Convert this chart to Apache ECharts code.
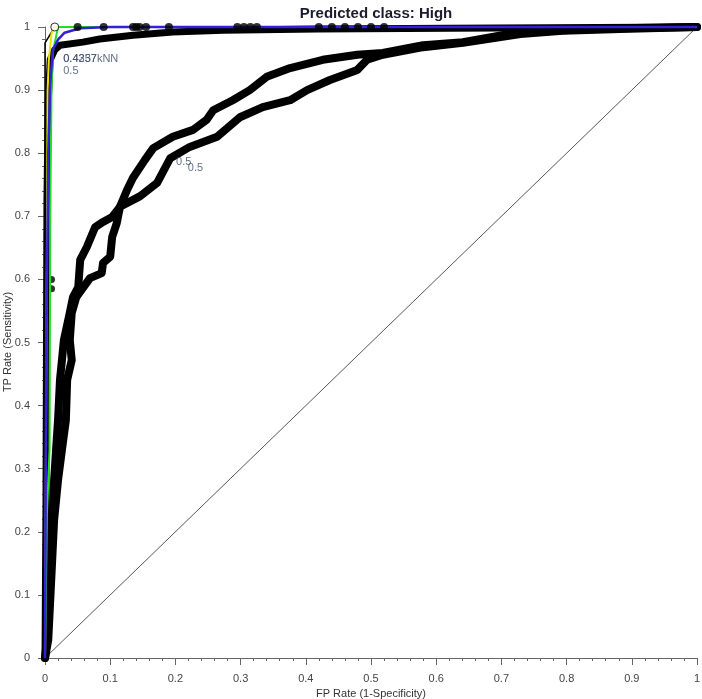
<!DOCTYPE html>
<html>
<head>
<meta charset="utf-8">
<script src="https://cdn.jsdelivr.net/npm/echarts@6/dist/echarts.min.js"></script>
<style>html,body{margin:0;padding:0;background:#fff}#c{width:702px;height:699px}</style>
</head>
<body>
<div id="c"></div>
<script>
// ROC curves: [FP rate, TP rate]
const curveA = [[0,0],[0.003,0.029],[0.005,0.092],[0.008,0.155],[0.011,0.219],[0.014,0.282],[0.017,0.330],[0.020,0.377],[0.023,0.441],[0.026,0.472],[0.029,0.504],[0.038,0.547],[0.043,0.572],[0.051,0.588],[0.054,0.631],[0.064,0.651],[0.077,0.683],[0.089,0.691],[0.103,0.699],[0.115,0.715],[0.126,0.742],[0.135,0.761],[0.153,0.789],[0.166,0.808],[0.196,0.826],[0.227,0.837],[0.248,0.853],[0.258,0.868],[0.288,0.884],[0.314,0.900],[0.340,0.921],[0.376,0.935],[0.426,0.948],[0.479,0.956],[0.518,0.959],[0.580,0.971],[0.641,0.976],[0.729,0.992],[0.794,0.995],[0.882,0.998],[1,1]];
const curveB = [[0,0],[0.005,0.029],[0.008,0.092],[0.011,0.155],[0.014,0.219],[0.020,0.282],[0.026,0.330],[0.032,0.377],[0.034,0.441],[0.041,0.472],[0.038,0.504],[0.041,0.547],[0.048,0.572],[0.069,0.602],[0.087,0.610],[0.089,0.626],[0.100,0.636],[0.103,0.667],[0.110,0.689],[0.115,0.715],[0.146,0.732],[0.172,0.753],[0.192,0.792],[0.222,0.810],[0.264,0.826],[0.299,0.857],[0.334,0.873],[0.376,0.884],[0.402,0.900],[0.437,0.916],[0.479,0.932],[0.494,0.948],[0.518,0.956],[0.580,0.968],[0.641,0.975],[0.729,0.989],[0.794,0.994],[0.882,0.997],[1,1]];
const curveC = [[0,0],[0.0015,0.25],[0.003,0.726],[0.005,0.884],[0.008,0.948],[0.015,0.964],[0.023,0.971],[0.058,0.976],[0.084,0.981],[0.135,0.987],[0.196,0.992],[0.273,0.995],[0.417,0.997],[0.621,0.998],[1,1]];
const curveBlue = [[0,0],[0.002,0.5],[0.005,0.8],[0.008,0.91],[0.012,0.964],[0.02,0.98],[0.03,0.991],[0.054,0.998],[0.1,1],[1,1]];
const curveGreen = [[0,0],[0.003,0.23],[0.007,0.33],[0.008,0.7],[0.01,0.9],[0.012,0.96],[0.02,1],[1,1]];
const curveYellow = [[0,0],[0.004,0.9],[0.006,0.95],[0.01,0.99],[0.015,1],[1,1]];
const curveKnn = [[0,0],[0,0.975],[0.015,1],[1,1]];
const knnPoint = [[0.015,1]];
const blueMarkers = [[0.05,1],[0.09,1],[0.135,1],[0.14,1],[0.145,1],[0.155,1],[0.19,1],[0.295,1],[0.305,1],[0.315,1],[0.325,1],[0.42,1],[0.44,1],[0.46,1],[0.48,1],[0.5,1],[0.52,1]];
const extraMarkers = [[0.01,0.585],[0.01,0.6]];
const diagonal = [[0,0],[1,1]];
const thresholdLabels = [[0.201,0.786,'0.5'],[0.219,0.777,'0.5'],[0.028,0.950,'0.4257'],[0.028,0.950,'0.4337kNN'],[0.028,0.930,'0.5']];
const xTicks = ['0','0.1','0.2','0.3','0.4','0.5','0.6','0.7','0.8','0.9','1'];
const yTicks = xTicks;
const xTitle = 'FP Rate (1-Specificity)';
const yTitle = 'TP Rate (Sensitivity)';

const chart = echarts.init(document.getElementById('c'));
const axisCommon = {
  type:'value', min:0, max:1, interval:0.1, offset:7,
  splitLine:{show:false},
  axisLine:{show:true,lineStyle:{color:'#666',width:1}},
  axisTick:{show:true,length:7,lineStyle:{color:'#666'}},
  minorTick:{show:true,splitNumber:5,length:3,lineStyle:{color:'#666'}},
  minorSplitLine:{show:false},
  axisLabel:{color:'#444',fontFamily:'Liberation Sans',fontSize:11,
    formatter:(v)=>xTicks[Math.round(v*10)]},
  nameTextStyle:{color:'#333',fontFamily:'Liberation Sans',fontSize:11}
};
function thick(data,w){return {type:'line',data,showSymbol:false,clip:false,z:2,
  lineStyle:{color:'#000',width:w,cap:'round',join:'round'},silent:true,animation:false};}
function thin(data,color,w,z){return {type:'line',data,showSymbol:false,clip:false,z:z,
  lineStyle:{color,width:w},silent:true,animation:false};}
chart.setOption({
  animation:false,
  title:{text:'Predicted class: High',left:371,textAlign:'center',top:1,
    textStyle:{fontFamily:'Liberation Sans',fontWeight:'bold',fontSize:15,color:'#1c1c2c'}},
  grid:{left:45,right:5,top:27,bottom:41,containLabel:false,outerBoundsMode:'none'},
  graphic:[{type:'text',x:8,y:342,rotation:Math.PI/2,
    style:{text:yTitle,fill:'#333',font:'11px "Liberation Sans"',align:'center',verticalAlign:'middle'}}],
  xAxis:Object.assign({},axisCommon,{name:xTitle,nameLocation:'middle',nameGap:22}),
  yAxis:Object.assign({},axisCommon),
  series:[
    thin(diagonal,'#555',1,1),
    thick(curveA,8),
    thick(curveB,8),
    thick(curveC,7),
    thin(curveKnn,'#000',1.5,3),
    {type:'scatter',data:extraMarkers,symbolSize:7,itemStyle:{color:'#000'},z:3,clip:false,silent:true},
    thin(curveYellow,'#e6e600',2,4),
    thin(curveGreen,'#22dd22',2,5),
    thin(curveBlue,'#3320d8',2.5,6),
    {type:'scatter',data:blueMarkers,symbolSize:8,itemStyle:{color:'#000'},z:7,clip:false,silent:true},
    {type:'scatter',data:knnPoint,symbolSize:8,itemStyle:{color:'#fff',borderColor:'#000',borderWidth:1},z:8,clip:false,silent:true},
    {type:'scatter',data:thresholdLabels.map(d=>({value:[d[0],d[1]],label:{formatter:d[2]}})),
      symbolSize:0,z:9,clip:false,silent:true,
      label:{show:true,position:'right',distance:0,color:'#3b4b6b',fontFamily:'Liberation Sans',fontSize:11}}
  ]
});
</script>
</body>
</html>
